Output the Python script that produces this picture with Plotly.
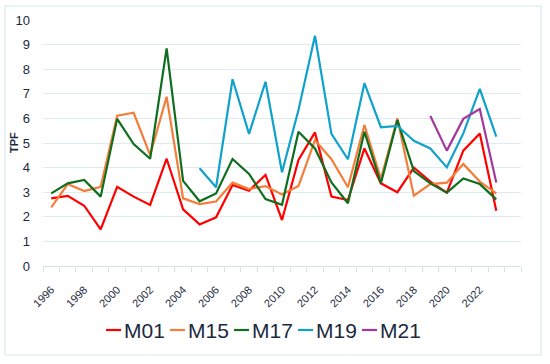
import plotly.graph_objects as go

years = list(range(1996, 2024))
m01 = [2.75, 2.85, 2.45, 1.49, 3.22, 2.82, 2.48, 4.36, 2.30, 1.69, 1.98, 3.29, 3.06, 3.70, 1.87, 4.31, 5.43, 2.82, 2.68, 4.78, 3.36, 3.00, 4.00, 3.43, 2.98, 4.69, 5.39, 2.25]
m15 = [2.38, 3.33, 3.05, 3.22, 6.11, 6.23, 4.51, 6.88, 2.75, 2.52, 2.62, 3.39, 3.13, 3.25, 2.91, 3.25, 5.12, 4.34, 3.20, 5.73, 3.54, 6.00, 2.86, 3.33, 3.39, 4.15, 3.43, 2.95]
m17 = [2.95, 3.36, 3.50, 2.82, 5.98, 4.96, 4.36, 8.85, 3.46, 2.63, 2.95, 4.35, 3.74, 2.72, 2.49, 5.46, 4.78, 3.40, 2.55, 5.46, 3.36, 5.93, 3.86, 3.36, 2.98, 3.56, 3.33, 2.71]
m19 = [None] * 9 + [3.97, 3.20, 7.59, 5.37, 7.49, 3.81, 6.34, 9.36, 5.37, 4.34, 7.43, 5.64, 5.70, 5.09, 4.78, 4.01, 5.39, 7.20, 5.26]
m21 = [None] * 23 + [6.10, 4.69, 5.98, 6.38, 3.39]
series_names = ["M01", "M15", "M17", "M19", "M21"]
series_values = [m01, m15, m17, m19, m21]
colors = ["#ff0000", "#f57d3a", "#0f6e1e", "#10a2cb", "#a3399c"]
tick_years = list(range(1996, 2023, 2))
y_ticks = list(range(0, 11))
y_title = "TPF"

W, H = 550, 364
ML, MR, MT, MB = 43, 29, 20, 98
PW, PH = W - ML - MR, H - MT - MB


def px_x(p):
    return (p - ML) / PW


def px_y(p):
    return (H - MB - p) / PH


fig = go.Figure()
for name, vals, col in zip(series_names, series_values, colors):
    fig.add_trace(go.Scatter(x=years, y=vals, name=name, mode="lines",
                             line=dict(color=col, width=2.2), connectgaps=False,
                             showlegend=False))

text_col = "#1b2a3e"
shapes = [dict(type="rect", xref="paper", yref="paper",
               x0=px_x(5), x1=px_x(541), y0=px_y(355), y1=px_y(6),
               line=dict(color="#d8e9ec", width=1.2), fillcolor="rgba(0,0,0,0)", layer="below")]
annotations = [dict(xref="paper", yref="paper", x=px_x(14), y=0.5, text="<b>%s</b>" % y_title,
                    textangle=-90, showarrow=False, xanchor="center", yanchor="middle",
                    font=dict(size=11, color=text_col))]
for i, (name, col) in enumerate(zip(series_names, colors)):
    x0 = 106 + 64 * i
    shapes.append(dict(type="line", xref="paper", yref="paper",
                       x0=px_x(x0), x1=px_x(x0 + 15), y0=px_y(330), y1=px_y(330),
                       line=dict(color=col, width=2.2)))
    annotations.append(dict(xref="paper", yref="paper", x=px_x(x0 + 16), y=px_y(330),
                            xanchor="left", yanchor="middle", text=name, showarrow=False,
                            font=dict(size=21, color=text_col)))

fig.update_layout(
    width=W, height=H,
    margin=dict(l=ML, r=MR, t=MT, b=MB, autoexpand=False),
    paper_bgcolor="white", plot_bgcolor="white",
    font=dict(family="Liberation Sans, Arial, sans-serif", color=text_col),
    showlegend=False,
    xaxis=dict(range=[1995.5, 2024.5], tickmode="array", tickvals=tick_years,
               ticktext=[str(y) for y in tick_years], tickangle=-45,
               tickfont=dict(size=11, color=text_col), showgrid=False, zeroline=False,
               showline=True, linecolor="#d5e3ea", linewidth=1, ticks="",
               ticklabelstandoff=12, automargin=False,
               minor=dict(ticks="outside", tickmode="linear", tick0=1995.5, dtick=1,
                          ticklen=5, tickcolor="#d5e3ea", showgrid=False)),
    yaxis=dict(range=[0, 10], tickvals=y_ticks, tickfont=dict(size=13, color=text_col),
               showgrid=True, gridcolor="#deebf1", gridwidth=1, zeroline=False,
               showline=False, ticks="", automargin=False, ticklabelstandoff=12),
    shapes=shapes,
    annotations=annotations,
)
fig.write_html("out.html", config={"displayModeBar": False},
               post_script="document.body.style.margin='0';")
